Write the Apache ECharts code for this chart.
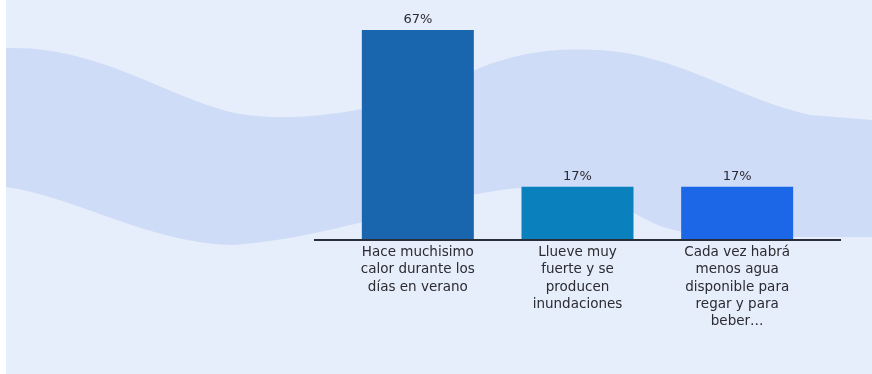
<!DOCTYPE html>
<html>
<head>
<meta charset="utf-8">
<script src="https://cdn.jsdelivr.net/npm/echarts@6/dist/echarts.min.js"></script>
<style>
html,body{margin:0;padding:0;background:#fff;}
#c{width:872px;height:374px;}
</style>
</head>
<body>
<div id="c"></div>
<script>
const categories = [
  "Hace muchisimo\ncalor durante los\ndías en verano",
  "Llueve muy\nfuerte y se\nproducen\ninundaciones",
  "Cada vez habrá\nmenos agua\ndisponible para\nregar y para\nbeber…"
];
const values = [67, 17, 17];
const valueLabels = ["67%", "17%", "17%"];
const barColors = ["#1a66ae", "#0a80bc", "#1c67e8"];

const chart = echarts.init(document.getElementById('c'), null, {renderer: 'canvas'});
const FONT = "DejaVu Sans";

const wavePath =
  "M6 48 C100 45 170 100 240 114 C300 124 400 110 470 72 C520 50 560 48 600 50 " +
  "C680 55 740 100 810 115 L872 120 L872 237 L780 237 C720 236 690 236 660 226 " +
  "C640 218 600 190 560 188 L520 188 C450 192 330 240 230 245 C150 243 70 195 6 187 Z";

echarts.graphic.registerShape('waveBand', echarts.graphic.extendPath(wavePath, {}));

chart.setOption({
  backgroundColor: '#e6edfb',
  animation: false,
  grid: {left: 338, width: 479, top: 20.6, height: 219.4, containLabel: false},
  graphic: [
    {type: 'rect', z: -20, silent: true, shape: {x: 0, y: 0, width: 6, height: 374}, style: {fill: '#ffffff'}},
    {type: 'waveBand', z: -10, silent: true, style: {fill: '#cedcf7'}},
    {type: 'line', z: 50, silent: true, shape: {x1: 314, y1: 240, x2: 841, y2: 240}, style: {stroke: '#2a2e38', lineWidth: 2}}
  ],
  xAxis: {
    type: 'category',
    data: categories,
    axisLine: {show: false},
    axisTick: {show: false},
    axisLabel: {
      interval: 0,
      color: '#2b2b31',
      fontFamily: FONT,
      fontSize: 13.5,
      lineHeight: 17.3,
      margin: 4,
      verticalAlign: 'top'
    }
  },
  yAxis: {
    type: 'value',
    min: 0,
    max: 70,
    show: false,
    splitLine: {show: false}
  },
  series: [{
    type: 'bar',
    barWidth: 112,
    data: values.map((v, i) => ({value: v, itemStyle: {color: barColors[i]}})),
    label: {
      show: true,
      position: 'top',
      distance: 4,
      color: '#2b2b31',
      fontFamily: FONT,
      fontSize: 13,
      formatter: p => valueLabels[p.dataIndex]
    }
  }]
});
</script>
</body>
</html>
